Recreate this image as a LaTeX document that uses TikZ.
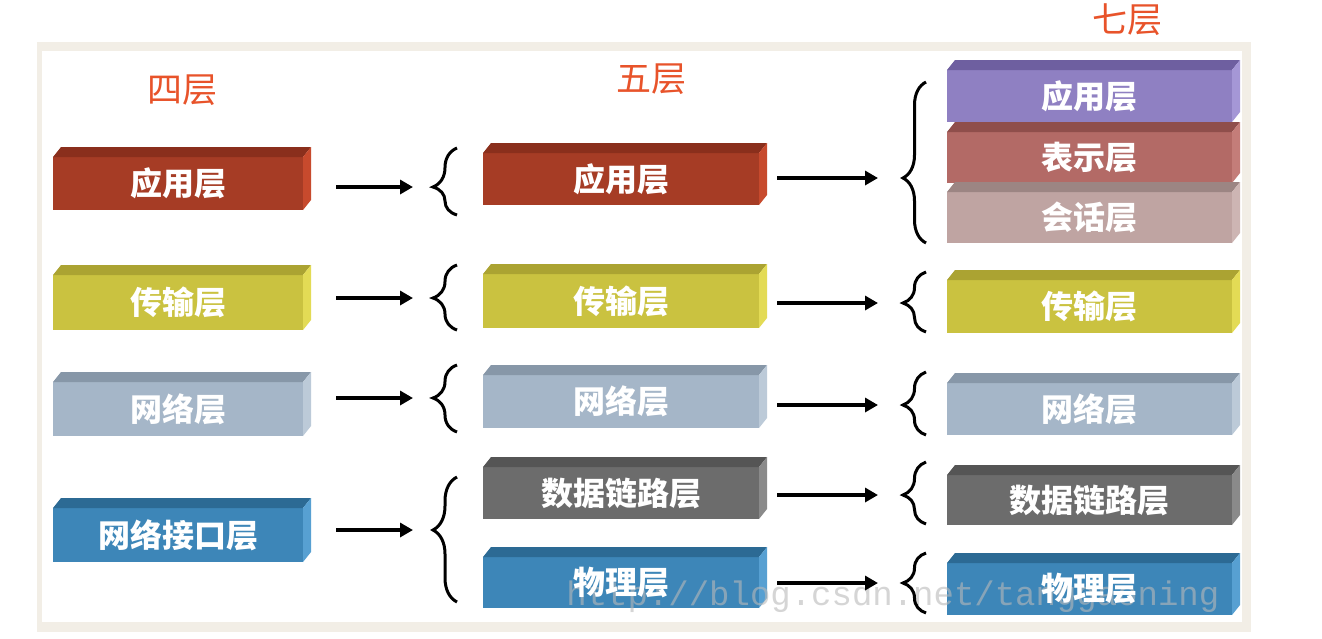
\documentclass[tikz,border=0pt]{standalone}
\usepackage{fontspec}
\newfontfamily\cjk{Noto Sans CJK SC}
\newfontfamily\wmfont{Liberation Mono}
\usetikzlibrary{arrows.meta,decorations.pathreplacing}
\pgfdeclarelayer{bg}
\pgfdeclarelayer{mid}
\pgfsetlayers{bg,mid,main}
\definecolor{framecol}{HTML}{F2EEE6}
\definecolor{titlecol}{HTML}{E8532A}
\definecolor{redF}{HTML}{A63C25}\definecolor{redT}{HTML}{8A2F1C}\definecolor{redS}{HTML}{C74A2D}
\definecolor{yelF}{HTML}{CAC240}\definecolor{yelT}{HTML}{ABA332}\definecolor{yelS}{HTML}{E3DB55}
\definecolor{bgyF}{HTML}{A5B6C8}\definecolor{bgyT}{HTML}{8797A8}\definecolor{bgyS}{HTML}{BCCAD8}
\definecolor{bluF}{HTML}{3D86B8}\definecolor{bluT}{HTML}{2C6A94}\definecolor{bluS}{HTML}{57A0D2}
\definecolor{gryF}{HTML}{6C6C6C}\definecolor{gryT}{HTML}{555555}\definecolor{gryS}{HTML}{8A8A8A}
\definecolor{purF}{HTML}{8F80C2}\definecolor{purT}{HTML}{6E5FA0}\definecolor{purS}{HTML}{A597D6}
\definecolor{rosF}{HTML}{B36A66}\definecolor{rosT}{HTML}{8F4E4B}\definecolor{rosS}{HTML}{C47D79}
\definecolor{pnkF}{HTML}{BFA4A2}\definecolor{pnkT}{HTML}{9C8583}\definecolor{pnkS}{HTML}{CDB5B3}
\tikzset{
  boxlabel/.style={inner sep=0pt, outer sep=0pt, text=white,
    font=\cjk\bfseries\fontsize{16}{18}\selectfont},
  titlelabel/.style={inner sep=0pt, text=titlecol, font=\cjk\fontsize{17.5}{20}\selectfont},
  arr/.style={line width=2pt, -{Triangle[length=6.5pt,width=7pt]}},
  bracestyle/.style={line width=1.5pt, decorate},
  wmstyle/.style={font=\wmfont\fontsize{17}{20}\selectfont, text=gray!55, opacity=0.6,
    anchor=base west, inner sep=0pt},
}
% #1 name, #2 x0, #3 y0, #4 x1, #5 y1, #6 front, #7 top, #8 side, #9 text
\newcommand\layerbox[9]{%
  \node[boxlabel, minimum width={(#4-#2-8)*0.5pt}, minimum height={(#5-#3-10)*0.5pt}]
    (#1) at ({(#2+#4-8)/2},{(#3+10+#5)/2}) {#9};
  \begin{pgfonlayer}{bg}
  \fill[#6] (#1.north west) rectangle (#1.south east);
  \fill[#7] (#1.north west) -- ++(8,-10) -- ([shift={(8,-10)}]#1.north east) -- (#1.north east) -- cycle;
  \fill[#8] (#1.north east) -- ++(8,-10) -- ([shift={(8,-10)}]#1.south east) -- (#1.south east) -- cycle;
  \end{pgfonlayer}
}
% #1 x right, #2 y top, #3 y bottom, #4 y tip, #5 amplitude
\newcommand\mybrace[5]{%
  \pgfmathsetmacro\braceasp{(#3-#4)/(#3-#2)}%
  \draw[bracestyle, decoration={brace, amplitude=#5, aspect=\braceasp}] (#1,#3) -- (#1,#2);
}
\begin{document}
\begin{tikzpicture}[x=0.5pt,y=-0.5pt]
\begin{pgfonlayer}{bg}
\fill[white] (0,0) rectangle (1322,638);
\fill[framecol] (37,42) rectangle (1251,632);
\fill[white] (42,51) rectangle (1242,622);
\end{pgfonlayer}
\useasboundingbox (0,0) rectangle (1322,638);

% titles
\node[titlelabel] (t4) at (182,90) {四层};
\node[titlelabel] (t5) at (651,79) {五层};
\node[titlelabel] (t7) at (1127,20) {七层};

% four layers
\layerbox{L1}{53}{147}{311}{210}{redF}{redT}{redS}{应用层}
\layerbox{L2}{53}{265}{311}{330}{yelF}{yelT}{yelS}{传输层}
\layerbox{L3}{53}{372}{311}{436}{bgyF}{bgyT}{bgyS}{网络层}
\layerbox{L4}{53}{498}{311}{562}{bluF}{bluT}{bluS}{网络接口层}

% five layers
\layerbox{M1}{483}{143}{767}{205}{redF}{redT}{redS}{应用层}
\layerbox{M2}{483}{264}{767}{328}{yelF}{yelT}{yelS}{传输层}
\layerbox{M3}{483}{365}{767}{428}{bgyF}{bgyT}{bgyS}{网络层}
\layerbox{M4}{483}{457}{767}{519}{gryF}{gryT}{gryS}{数据链路层}
\layerbox{M5}{483}{547}{767}{608}{bluF}{bluT}{bluS}{物理层}

% seven layers
\layerbox{R1}{947}{60}{1240}{122}{purF}{purT}{purS}{应用层}
\layerbox{R2}{947}{122}{1240}{183}{rosF}{rosT}{rosS}{表示层}
\layerbox{R3}{947}{182}{1240}{243}{pnkF}{pnkT}{pnkS}{会话层}
\layerbox{R4}{947}{270}{1240}{333}{yelF}{yelT}{yelS}{传输层}
\layerbox{R5}{947}{373}{1240}{435}{bgyF}{bgyT}{bgyS}{网络层}
\layerbox{R6}{947}{465}{1240}{525}{gryF}{gryT}{gryS}{数据链路层}
\layerbox{R7}{947}{553}{1240}{615}{bluF}{bluT}{bluS}{物理层}

% brace tips
\coordinate (a1) at (432,187);
\coordinate (a2) at (432,298);
\coordinate (a3) at (432,398);
\coordinate (a4) at (432,530);
\coordinate (b1) at (903,178);
\coordinate (b2) at (903,303);
\coordinate (b3) at (903,405);
\coordinate (b4) at (903,495);
\coordinate (b5) at (903,583);

% braces
\mybrace{457}{148}{215}{187}{12pt}
\mybrace{457}{265}{330}{298}{12pt}
\mybrace{457}{365}{432}{398}{12pt}
\mybrace{457}{477}{602}{530}{12pt}
\mybrace{926}{82}{243}{178}{11.5pt}
\mybrace{926}{272}{332}{303}{11.5pt}
\mybrace{926}{372}{435}{405}{11.5pt}
\mybrace{926}{462}{524}{495}{11.5pt}
\mybrace{926}{553}{613}{583}{11.5pt}

% arrows
\draw[arr, shorten <=16.5pt, shorten >=9.5pt] (L1.east |- a1) -- (a1);
\draw[arr, shorten <=16.5pt, shorten >=9.5pt] (L2.east |- a2) -- (a2);
\draw[arr, shorten <=16.5pt, shorten >=9.5pt] (L3.east |- a3) -- (a3);
\draw[arr, shorten <=16.5pt, shorten >=9.5pt] (L4.east |- a4) -- (a4);
\draw[arr, shorten <=9pt, shorten >=12.5pt] (M1.east |- b1) -- (b1);
\draw[arr, shorten <=9pt, shorten >=12.5pt] (M2.east |- b2) -- (b2);
\draw[arr, shorten <=9pt, shorten >=12.5pt] (M3.east |- b3) -- (b3);
\draw[arr, shorten <=9pt, shorten >=12.5pt] (M4.east |- b4) -- (b4);
\draw[arr, shorten <=9pt, shorten >=12.5pt] (M5.east |- b5) -- (b5);

% watermark, above the box faces and below the labels
\begin{pgfonlayer}{mid}
\node[wmstyle] (wm) at (566,605) {http://blog.csdn.net/tanggaoning};
\end{pgfonlayer}
\end{tikzpicture}
\end{document}
